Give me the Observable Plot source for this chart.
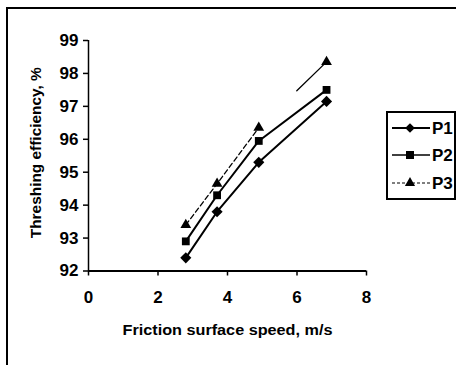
<!DOCTYPE html>
<html><head><meta charset="utf-8">
<script src="https://cdn.jsdelivr.net/npm/d3@7"></script>
<script src="https://cdn.jsdelivr.net/npm/@observablehq/plot@0.6"></script>
<style>
body{margin:0;overflow:hidden;background:#fff;}
#wrap{position:relative;width:456px;height:365px;overflow:hidden;font-family:"Liberation Sans",Arial,sans-serif;background:#fff;}
#frame{position:absolute;left:6px;top:7px;width:480px;height:400px;border:2px solid #000;box-sizing:border-box;}
#chart{position:absolute;left:0;top:0;}
#legend{position:absolute;left:0;top:0;}
</style>
</head><body>
<div id="wrap"><div id="frame"></div><div id="chart"></div><svg id="legend" width="456" height="365"></svg></div>
<script>
const speeds = [2.8, 3.7, 4.9, 6.85];
const p1 = [92.4, 93.8, 95.3, 97.15];
const p2 = [92.9, 94.3, 95.95, 97.5];
const p3 = [93.4, 94.65, 96.35, 98.35];
const seriesNames = ["P1", "P2", "P3"];
const xTicks = [0, 2, 4, 6, 8];
const yTicks = [92, 93, 94, 95, 96, 97, 98, 99];
const xTitle = "Friction surface speed, m/s";
const yTitle = "Threshing efficiency, %";

const rows = (vals, name) => speeds.map((s, i) => ({x: s, y: vals[i], series: name}));
const d1 = rows(p1, "P1"), d2 = rows(p2, "P2"), d3r = rows(p3, "P3");

const font = "Liberation Sans, Arial, sans-serif";
const plot = Plot.plot({
  width: 456, height: 365,
  marginLeft: 88, marginRight: 90, marginTop: 40, marginBottom: 94.5,
  style: {fontFamily: font, background: "transparent", color: "#000"},
  x: {domain: [0, 8], ticks: xTicks},
  y: {domain: [92, 99], ticks: yTicks},
  marks: [
    Plot.axisX({ticks: xTicks, tickSize: 5, tickPadding: 15, fontSize: 17, fontWeight: "bold", label: null, strokeWidth: 1.5, tickFormat: "d"}),
    Plot.axisY({ticks: yTicks, tickSize: 5, tickPadding: 5, fontSize: 17, fontWeight: "bold", label: null, strokeWidth: 1.5, tickFormat: "d"}),
    Plot.ruleY([92], {stroke: "#000", strokeWidth: 2}),
    Plot.ruleX([0], {stroke: "#000", strokeWidth: 1.5}),
    Plot.line(d3r.slice(0, 3), {x: "x", y: "y", stroke: "#000", strokeWidth: 1.3, strokeDasharray: "5,3"}),
    Plot.line(d3r.slice(2), {x: "x", y: "y", stroke: "#000", strokeWidth: 1.3, strokeDasharray: "0,53,60"}),
    Plot.line(d2, {x: "x", y: "y", stroke: "#000", strokeWidth: 2}),
    Plot.line(d1, {x: "x", y: "y", stroke: "#000", strokeWidth: 2}),
    Plot.dot(d1, {x: "x", y: "y", symbol: d3.symbolDiamond2, r: 5, fill: "#000", stroke: "none"}),
    Plot.dot(d2, {x: "x", y: "y", symbol: "square", r: 4.4, fill: "#000"}),
    Plot.dot(d3r, {x: "x", y: "y", symbol: "triangle", r: 4, fill: "#000"}),
    Plot.text([yTitle], {text: d => d, frameAnchor: "left", textAnchor: "middle", rotate: -90, dx: -52, dy: -3, fontSize: 14, fontWeight: "bold", className: "ytitle"}),
    Plot.text([xTitle], {text: d => d, frameAnchor: "bottom", dy: 64, fontSize: 14, fontWeight: "bold", className: "xtitle"})
  ]
});
document.getElementById("chart").appendChild(plot);
d3.select(plot).selectAll(".xtitle text").attr("textLength", 210).attr("lengthAdjust", "spacingAndGlyphs");
d3.select(plot).selectAll(".ytitle text").attr("textLength", 171).attr("lengthAdjust", "spacingAndGlyphs");

// legend
const lg = d3.select("#legend");
lg.append("rect").attr("x", 387).attr("y", 112).attr("width", 68).attr("height", 87)
  .attr("fill", "#fff").attr("stroke", "#000").attr("stroke-width", 2);
const symbols = [d3.symbolDiamond2, d3.symbolSquare, d3.symbolTriangle];
const sizes = [60, 64, 45];
const dashes = [null, null, "3,2"];
const widths = [2, 1.3, 1.1];
const ly = [128, 155, 183];
seriesNames.forEach((name, i) => {
  lg.append("line").attr("x1", 392).attr("x2", 430).attr("y1", ly[i]).attr("y2", ly[i])
    .attr("stroke", "#000").attr("stroke-width", widths[i]).attr("stroke-dasharray", dashes[i]);
  lg.append("path").attr("d", d3.symbol(symbols[i], sizes[i])()).attr("transform", `translate(410,${ly[i]})`).attr("fill", "#000");
  lg.append("text").attr("x", 432).attr("y", ly[i]).attr("dy", "0.36em").attr("font-size", 17)
    .attr("font-weight", "bold").attr("font-family", font).text(name);
});
</script>
</body></html>
